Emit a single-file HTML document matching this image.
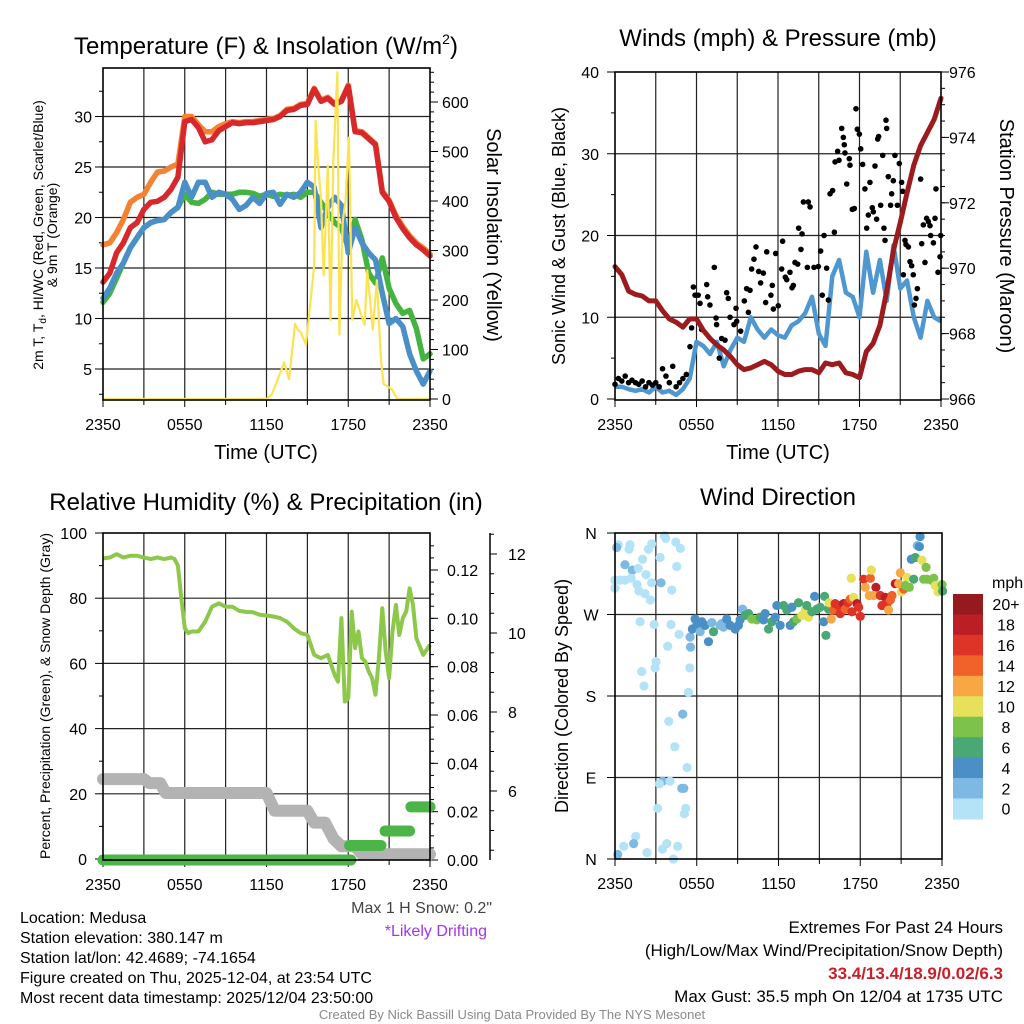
<!DOCTYPE html>
<html><head><meta charset="utf-8"><style>
html,body{margin:0;padding:0;background:#fff}
svg{display:block;font-family:"Liberation Sans",Arial,sans-serif}
</style></head><body>
<svg id="c" width="1024" height="1024" viewBox="0 0 1024 1024" xmlns="http://www.w3.org/2000/svg">
<rect x="0" y="0" width="1024" height="1024" fill="#fff"/>
<text x="266" y="54" font-size="24" text-anchor="middle">Temperature (F) &amp; Insolation (W/m<tspan font-size="14" dy="-10">2</tspan><tspan dy="10">)</tspan></text>
<text x="778" y="46" font-size="24" text-anchor="middle">Winds (mph) &amp; Pressure (mb)</text>
<text x="266" y="510" font-size="24" text-anchor="middle">Relative Humidity (%) &amp; Precipitation (in)</text>
<text x="778" y="505" font-size="24" text-anchor="middle">Wind Direction</text>

<text transform="translate(43,235) rotate(-90)" font-size="14" text-anchor="middle">2m T, T<tspan font-size="10" dy="3">d</tspan><tspan dy="-3">, HI/WC (Red, Green, Scarlet/Blue)</tspan></text>
<text transform="translate(57,235) rotate(-90)" font-size="14" text-anchor="middle">&amp; 9m T (Orange)</text>
<text transform="translate(487,235) rotate(90)" font-size="20" text-anchor="middle">Solar Insolation (Yellow)</text>
<text x="266" y="459" font-size="20" text-anchor="middle">Time (UTC)</text>
<text transform="translate(565,236) rotate(-90)" font-size="18" text-anchor="middle">Sonic Wind &amp; Gust (Blue, Black)</text>
<text transform="translate(1000,236) rotate(90)" font-size="20" text-anchor="middle">Station Pressure (Maroon)</text>
<text x="778" y="459" font-size="20" text-anchor="middle">Time (UTC)</text>
<text transform="translate(50,696) rotate(-90)" font-size="14" text-anchor="middle">Percent, Precipitation (Green), &amp; Snow Depth (Gray)</text>
<text transform="translate(568,696) rotate(-90)" font-size="18" text-anchor="middle">Direction (Colored By Speed)</text>

<text x="492" y="913" font-size="16" fill="#444" text-anchor="end">Max 1 H Snow: 0.2"</text>
<text x="487" y="936" font-size="16" fill="#a335ee" text-anchor="end">*Likely Drifting</text>
<g font-size="16">
<text x="20" y="923">Location: Medusa</text>
<text x="20" y="943">Station elevation: 380.147 m</text>
<text x="20" y="963">Station lat/lon: 42.4689; -74.1654</text>
<text x="20" y="983">Figure created on Thu, 2025-12-04, at 23:54 UTC</text>
<text x="20" y="1003">Most recent data timestamp: 2025/12/04 23:50:00</text>
</g>
<g font-size="17" text-anchor="end">
<text x="1003" y="933">Extremes For Past 24 Hours</text>
<text x="1003" y="956">(High/Low/Max Wind/Precipitation/Snow Depth)</text>
<text x="1003" y="979" font-weight="bold" fill="#c8202a">33.4/13.4/18.9/0.02/6.3</text>
<text x="1003" y="1002">Max Gust: 35.5 mph On 12/04 at 1735 UTC</text>
</g>
<text x="512" y="1019" font-size="13" fill="#8a8a8a" text-anchor="middle">Created By Nick Bassill Using Data Provided By The NYS Mesonet</text>
</svg>
<script>
// ---------- Panel 1 data (hourly offsets from 2350 UTC) ----------
const tHours = [0,0.5,1,1.5,2,2.5,3,3.5,4,4.5,5,5.5,6,6.5,7,7.5,8,8.5,9,9.5,10,10.5,11,11.5,12,12.5,13,13.5,14,14.5,15,15.5,16,16.5,17,17.5,18,18.5,19,19.5,20,20.5,21,21.5,22,22.5,23,23.5,24];
const tempRed = [13.6,14.5,16.5,17.5,19,19.5,20.8,21.5,21.6,22,22.8,24,29.5,29.7,28.9,27.5,27.7,28.6,29,29.4,29.3,29.4,29.4,29.5,29.6,29.7,30,30.6,30.7,31.1,31.2,32.7,31.5,31.8,31.2,31.5,33,28.5,28.4,27.8,27.2,22.5,21.6,20,18.9,18,17.3,16.8,16.2];
const temp9m = [17.3,17.5,18.5,19.8,21.5,22,22.3,23.5,24.5,24.6,25,25.3,30,30,29.2,28.5,28.5,29,29.3,29.5,29.4,29.5,29.5,29.6,29.7,29.8,30.1,30.7,30.8,31.2,31.3,32.8,31.6,31.9,31.3,31.6,33.1,28.6,28.5,27.9,27.3,22.6,21.7,20.2,19.1,18.2,17.5,17,16.4];
const dewGreen = [11.6,12.5,14,15.5,17,18,19,19.5,19.7,19.8,20.5,21,22.3,21.5,21.4,21.8,22.5,22.3,22.3,22.3,22.5,22.5,22.4,22.1,22.3,22.1,22.3,22.2,22.3,22,22.5,22.5,21.5,20.5,19.5,19,17,19.8,17.8,14.5,13.5,16,13,11.5,10.5,10.8,9,6,6.5];
const hiwcBlue = [12,13,14.5,15.5,17,18,19,19.5,19.7,19.8,20.5,21,23.5,22,23.5,23.5,22,22.5,22.3,21.8,20.8,21.2,22,21.4,22.4,22.5,21.3,22.3,22,22.5,23.5,23,19,21,22,21.2,16.5,19,17.5,16.5,15.8,12.5,9.5,10,9.2,6.5,4.8,3.5,4.8];
const solarHours = [0,12,12.4,13.3,13.65,14.1,14.3,14.5,14.9,15.5,15.6,15.8,16,16.2,16.5,16.7,16.9,17.2,17.35,17.6,17.8,18.05,18.3,18.6,19.2,19.4,19.8,20.1,20.4,20.6,21.2,21.6,24];
const solarVals = [0,0,10,74,40,152,140,135,110,270,562,470,404,250,471,160,480,660,130,360,400,528,160,200,150,260,140,240,80,30,20,0,0];
const p1TempTicks = [5,10,15,20,25,30];
const p1SolarTicks = [0,100,200,300,400,500,600];
const timeTickLabels = ["2350","0550","1150","1750","2350"];

// ---------- Panel 2 data ----------
const pressure = [970.05,969.8,969.3,969.2,969.15,969.0,969.0,968.7,968.45,968.35,968.2,968.45,968.45,968.1,967.85,967.65,967.5,967.3,967.05,966.9,966.95,967.05,967.15,967.05,966.85,966.75,966.75,966.85,966.9,966.9,966.8,967.1,967.05,967.1,966.8,966.75,966.65,967.45,967.7,968.25,969.3,970.55,971.4,972.3,973.15,973.75,974.15,974.55,975.2];
const windSpeed = [1.5,1.5,1.2,1.0,1.2,0.8,1.5,0.8,1.0,0.5,1.2,2.5,7,6.5,5.5,7,4,6,7.5,7,10,8.5,7.5,8.5,7.8,7.5,9,9.5,10.5,12.5,8,6.5,15,17,13,12.5,10,18,13,17,12,18.8,13.5,14.5,10,7.5,12,10,9.5];
const gustHours = [0,0.25,0.5,0.75,1,1.25,1.5,1.75,2,2.25,2.5,2.75,3,3.25,3.5,3.75,4,4.25,4.5,4.75,5,5.25,5.52,5.77,5.89,6.13,6.26,5.64,6.38,6.75,6.82,6.99,7.31,7.44,7.48,7.68,7.85,8.10,8.22,8.34,8.47,8.76,8.96,8.91,9.25,9.52,9.69,9.82,9.94,10.06,10.23,10.38,10.58,10.72,10.92,11.09,11.17,11.48,11.58,11.66,11.83,12.02,12.27,12.34,12.54,12.64,12.88,13.03,13.13,13.25,13.45,13.52,13.69,13.77,13.87,14.23,14.36,14.16,14.65,14.97,15.14,15.26,15.39,15.58,15.71,15.83,16.02,16.15,16.20,16.39,16.49,16.69,16.81,16.88,16.93,17.06,17.25,17.30,17.47,17.62,17.74,17.84,17.99,18.09,18.23,18.40,18.53,18.65,18.77,18.94,19.02,19.14,19.26,19.34,19.41,19.56,19.71,19.80,19.88,19.95,20.00,20.12,20.29,20.37,20.49,20.61,20.79,20.93,21.10,21.18,21.23,21.35,21.42,21.60,21.72,21.84,21.96,22.04,22.16,22.26,22.50,22.58,22.70,22.82,22.94,23.07,23.19,23.24,23.44,23.56,23.63,23.78,23.93,23.98];
const gustMph = [1.8,2.5,2.2,2.8,2,2.3,2.0,1.8,2.2,1.5,2.0,1.7,2.0,1.5,3.7,2.8,2.0,4.0,1.5,2.0,2.5,3.0,6.4,13.7,12.7,12.7,11.7,8.7,8.5,14.0,12.5,11.5,16.1,9.9,9.1,5.0,7.4,7.2,13.0,12.3,10.0,9.1,9.5,11.1,8.3,12.0,13.5,10.6,13.3,15.9,17.1,18.6,15.6,14.2,15.4,11.8,18.0,12.7,13.9,11.0,17.8,11.4,15.9,19.3,14.9,14.6,15.5,13.6,13.9,16.7,16.5,20.9,18.3,20.2,24.1,24.1,23.5,16.1,16.1,16.2,18.1,12.7,20.0,16.0,12.1,25.1,25.5,20.4,29.0,30.3,29.2,33.1,32.0,31.1,30.1,26.3,29.4,28.6,23.2,23.3,35.5,33.0,32.4,30.6,28.7,25.7,20.9,22.5,26.5,23.4,22.9,28.5,22.0,31.8,32.1,23.7,29.8,20.9,19.4,34.1,33.1,27.2,23.7,25.1,26.7,29.8,23.7,28.8,26.5,25.4,15.2,19.4,18.9,18.6,16.8,16.3,15.2,11.5,12.3,13.5,26.9,19.0,21.3,16.7,22.1,21.7,21.2,20.0,19.1,22.1,25.7,15.5,17.4,20.0];
const p2WindTicks = [0,10,20,30,40];
const p2PressTicks = [966,968,970,972,974,976];

// ---------- Panel 3 data ----------
const rhHours = [0,0.5,1,1.5,2,2.5,3,3.5,4,4.5,5,5.25,5.5,5.75,6,6.25,6.5,7,7.5,8,8.5,9,9.5,10,10.5,11,11.5,12,12.5,13,13.5,14,14.5,15,15.5,16,16.5,17,17.25,17.5,17.75,18,18.25,18.5,18.75,19,19.25,19.5,19.75,20,20.25,20.5,20.75,21,21.25,21.5,21.75,22,22.25,22.5,22.75,23,23.5,24];
const rhVals = [92.2,92.5,93.5,92.5,93,93,92.5,92,92.5,92,92.5,92,90,80,70.8,69.3,69.8,69.8,72.8,77.4,78.4,77.4,77.4,76.1,75.8,75.7,74.9,74.7,74.4,73.9,72.8,70.8,69.3,68.7,62.6,61.6,62.6,56.5,54.4,73.9,48.3,49.3,75.9,64.7,69.8,61.6,60.6,57.5,55.5,50.4,61.6,76.9,63.6,55.5,69.8,77.9,68.7,73.9,75.9,83,77.9,67.7,62.6,65.7];
const snowHours = [0,3,3.4,4.2,4.6,12,12.6,15,15.5,16.3,16.9,17.5,18.5,19,24];
const snowVals = [6.3,6.3,6.2,6.2,5.95,5.95,5.5,5.5,5.2,5.2,4.8,4.6,4.6,4.4,4.4];
const precipStart = [0,18.1,20.7,22.6];
const precipEnd = [18.2,20.4,22.5,24];
const precipVals = [0,0.006,0.012,0.022];
const p3RhTicks = [0,20,40,60,80,100];
const p3PrecipTicks = [0,0.02,0.04,0.06,0.08,0.10,0.12];
const p3SnowTicks = [6,8,10,12];

// ---------- Panel 4 data ----------
const dirHours = [0.24,1.03,1.10,2.45,2.69,3.62,3.72,4.46,4.80,0.12,0.73,1.27,2.03,1.71,3.31,4.53,0,0.37,0.73,1.18,2.28,2.69,3.38,1.62,1.76,2.20,2.60,4.16,0,1.84,2.87,4.11,4.70,3.87,5.54,3.01,2.94,1.96,2.13,5.49,5.39,4.97,3.94,4.38,5.29,3.50,3.26,4.04,4.90,5.05,3.13,5.19,5.09,1.52,1.37,0.64,0.2,2.35,3.80,3.48,4.60,4.29,5.51,
5.68,5.88,6.0,6.25,6.37,6.61,6.86,7.10,7.23,7.71,7.84,7.96,8.2,8.45,8.82,9.06,9.18,9.36,9.55,9.8,10.04,10.41,10.65,10.9,11.02,11.27,11.51,11.76,11.88,12.12,12.37,12.61,12.86,12.98,13.1,13.35,13.47,13.72,13.96,14.08,14.2,14.45,14.65,14.82,15.06,15.31,15.38,15.48,15.67,15.72,15.87,16.04,16.16,16.41,16.53,16.78,16.9,17.09,17.27,17.39,17.51,17.76,17.88,18.0,17.34,18.25,18.74,18.81,18.37,18.66,19.15,18.98,19.47,19.59,19.84,19.96,20.08,20.21,20.33,20.57,20.94,21.01,21.19,21.43,21.6,21.75,21.92,22.04,22.19,22.39,22.34,22.53,22.83,22.65,22.9,23.22,23.39,23.51,23.71,24.0,24.05,20.82,21.31];
const dirDeg = [347,342,347,342,348,357,354,350,343,344,325,319,331,321,333,323,308,308,308,310,314,305,305,303,296,293,286,297,299,262,259,259,248,235,234,218,211,207,191,211,184,160,152,124,101,86,83,86,78,78,56,56,50,25,17,14,5,7,17,11,14,0,245,
254,265,258,251,262,258,240,261,251,258,260,256,265,258,254,258,264,276,269,271,265,264,267,264,271,254,262,267,280,258,280,275,258,278,262,265,283,269,275,280,267,273,290,276,278,262,290,247,276,283,265,275,282,280,271,282,276,283,287,273,289,282,278,268,310,309,310,319,300,291,300,291,291,280,289,282,275,286,291,304,316,295,298,311,300,331,309,333,346,356,345,330,322,309,309,308,310,302,295,303,296,304,302];
const dirSpeed = [1,1,1,1,1,1,1,1,1,3.5,3,3,1,1,1,1,1,1,1,1,1,1,3,1,1,1,1,1,1,1,1,1,1,1,2.5,1,1,1,1,1,1,3,1,1,1,3,1,1,3,2.5,1,1,1,1,3,1,3,1,1,1,1,1,3,
5,5,5,3,5,5,5,3,7,3,3,3,5,5,5,5,5,3,7,7,9,9,7,5,5,7,7,5,5,5,7,7,5,5,7,9,7,11,11,7,11,7,5,7,7,5,7,7,7,11,13,15,17,17,17,19,15,17,15,17,11,19,17,17,11,17,15,11,13,13,19,13,17,17,19,17,13,15,15,19,13,11,15,11,9,5,7,7,3,5,5,11,9,9,9,9,9,11,11,9,7,13,9];
const speedBinLabels = ["0","2","4","6","8","10","12","14","16","18","20+"];
const speedBinColors = ["#b4e2f7","#7db9e3","#4a8fc6","#4aa874","#7cc24b","#e6e05a","#f7a845","#f0622a","#de3327","#bb1e25","#941a1d"];
const dirTickLabels = ["N","E","S","W","N"];
const dirTickDeg = [0,90,180,270,360];

// ---------- helpers ----------
const NS = "http://www.w3.org/2000/svg";
const svg = document.getElementById('c');
function mk(tag, attrs, parent) {
  const e = document.createElementNS(NS, tag);
  for (const k in attrs) e.setAttribute(k, attrs[k]);
  (parent || svg).appendChild(e);
  return e;
}
function grp(name) {
  const g = mk('g', {});
  
  
  return g;
}
function linear(d0, d1, r0, r1) { return v => r0 + (v - d0) / (d1 - d0) * (r1 - r0); }
function pathFrom(xs, ys, fx, fy) {
  let d = '';
  for (let i = 0; i < xs.length; i++) d += (i ? 'L' : 'M') + fx(xs[i]).toFixed(1) + ',' + fy(ys[i]).toFixed(1);
  return d;
}
function txt(parent, x, y, s, size, anchor, fill) {
  const t = mk('text', {x: x, y: y, 'font-size': size, 'text-anchor': anchor || 'middle', fill: fill || '#000'}, parent);
  t.textContent = s;
  return t;
}
function frame(g, x0, x1, y0, y1, hGrid, fy) {
  const fx = linear(0, 24, x0, x1);
  for (let h = 3; h < 24; h += 3) mk('line', {x1: fx(h), x2: fx(h), y1: y0, y2: y1, stroke: '#222', 'stroke-width': 1.2}, g);
  hGrid.forEach(v => mk('line', {x1: x0, x2: x1, y1: fy(v), y2: fy(v), stroke: '#222', 'stroke-width': 1.2}, g));
  for (let h = 0; h <= 24; h += 3) mk('line', {x1: fx(h), x2: fx(h), y1: y1, y2: y1 + (h % 6 === 0 ? 7 : 5), stroke: '#000', 'stroke-width': 1}, g);
  timeTickLabels.forEach((s, i) => txt(g, fx(i * 6), y1 + 30, s, 16));
}
function box(g, x0, x1, y0, y1) {
  mk('rect', {x: x0, y: y0, width: x1 - x0, height: y1 - y0, fill: 'none', stroke: '#000', 'stroke-width': 1.6}, g);
}

// ---------- Panel 1 ----------
(function () {
  const x0 = 103, x1 = 430, y0 = 68, y1 = 400;
  const fx = linear(0, 24, x0, x1);
  const fy = linear(5, 30, 369, 116.5);
  const fs = linear(0, 600, 399, 102);
  const g = grp('temperature-panel');
  frame(g, x0, x1, y0, y1, p1TempTicks, fy);
  p1TempTicks.forEach(v => { mk('line', {x1: x0 - 8, x2: x0, y1: fy(v), y2: fy(v), stroke: '#000'}, g); txt(g, x0 - 11, fy(v) + 6, String(v), 16, 'end'); });
  for (let v = 2.5; v < 34; v += 5) mk('line', {x1: x0 - 4, x2: x0, y1: fy(v), y2: fy(v), stroke: '#000'}, g);
  p1SolarTicks.forEach(v => { mk('line', {x1: x1, x2: x1 + 8, y1: fs(v), y2: fs(v), stroke: '#000'}, g); txt(g, x1 + 12, fs(v) + 6, String(v), 16, 'start'); });
  for (let v = 20; v < 670; v += 20) mk('line', {x1: x1, x2: x1 + 4, y1: fs(v), y2: fs(v), stroke: '#000'}, g);
  const series = [['line-9m-temp', temp9m, '#f58232'], ['line-dewpoint', dewGreen, '#45b340'], ['line-hiwc', hiwcBlue, '#4b8fc8'], ['line-2m-temp', tempRed, '#d7282b']];
  series.forEach(s => {
    const p = mk('path', {d: pathFrom(tHours, s[1], fx, fy), fill: 'none', stroke: s[2], 'stroke-width': 5.5, 'stroke-linejoin': 'round', 'stroke-linecap': 'round'}, g);
    
    
  });
  const sp = mk('path', {d: pathFrom(solarHours, solarVals, fx, fs), fill: 'none', stroke: '#fbe351', 'stroke-width': 2.2, 'stroke-linejoin': 'round'}, g);
  
  
  box(g, x0, x1, y0, y1);
})();

// ---------- Panel 2 ----------
(function () {
  const x0 = 615, x1 = 941, y0 = 72, y1 = 400;
  const fx = linear(0, 24, x0, x1);
  const fw = linear(0, 40, 399, 72);
  const fp = linear(966, 976, 399, 72);
  const g = grp('winds-panel');
  frame(g, x0, x1, y0, y1, [10, 20, 30], fw);
  p2WindTicks.forEach(v => { mk('line', {x1: x0 - 8, x2: x0, y1: fw(v), y2: fw(v), stroke: '#000'}, g); txt(g, x0 - 16, fw(v) + 6, String(v), 16, 'end'); });
  for (let v = 5; v < 40; v += 10) mk('line', {x1: x0 - 4, x2: x0, y1: fw(v), y2: fw(v), stroke: '#000'}, g);
  p2PressTicks.forEach(v => { mk('line', {x1: x1, x2: x1 + 8, y1: fp(v), y2: fp(v), stroke: '#000'}, g); txt(g, x1 + 8, fp(v) + 6, String(v), 16, 'start'); });
  for (let v = 966.5; v < 976; v += 0.5) mk('line', {x1: x1, x2: x1 + 4, y1: fp(v), y2: fp(v), stroke: '#000'}, g);
  const wp = mk('path', {d: pathFrom(tHours, windSpeed, fx, fw), fill: 'none', stroke: '#4f97d1', 'stroke-width': 4.5, 'stroke-linejoin': 'round'}, g);
  
  
  const gg = grp('gust-points'); g.appendChild(gg);
  gustHours.forEach((h, i) => {
    const c = mk('circle', {cx: fx(h), cy: fw(gustMph[i]), r: 2.8, fill: '#000'}, gg);
    
    
  });
  const pp = mk('path', {d: pathFrom(tHours, pressure, fx, fp), fill: 'none', stroke: '#9b1b1f', 'stroke-width': 5, 'stroke-linejoin': 'round', 'stroke-linecap': 'round'}, g);
  
  
  box(g, x0, x1, y0, y1);
})();

// ---------- Panel 3 ----------
(function () {
  const x0 = 103, x1 = 430, y0 = 533, y1 = 860;
  const fx = linear(0, 24, x0, x1);
  const fr = linear(0, 100, 859, 533);
  const fpr = linear(0, 0.12, 860, 570);
  const fsn = linear(6, 12, 791, 554);
  const g = grp('humidity-panel');
  frame(g, x0, x1, y0, y1, [20, 40, 60, 80], fr);
  p3RhTicks.forEach(v => { mk('line', {x1: x0 - 8, x2: x0, y1: fr(v), y2: fr(v), stroke: '#000'}, g); txt(g, x0 - 16, fr(v) + 6, String(v), 16, 'end'); });
  for (let v = 10; v < 100; v += 20) mk('line', {x1: x0 - 4, x2: x0, y1: fr(v), y2: fr(v), stroke: '#000'}, g);
  p3PrecipTicks.forEach(v => { mk('line', {x1: x1, x2: x1 + 8, y1: fpr(v), y2: fpr(v), stroke: '#000'}, g); txt(g, x1 + 17, fpr(v) + 6, v.toFixed(2), 16, 'start'); });
  for (let v = 0.005; v < 0.135; v += 0.005) mk('line', {x1: x1, x2: x1 + 4, y1: fpr(v), y2: fpr(v), stroke: '#000'}, g);
  const sx = 490;
  mk('line', {x1: sx, x2: sx, y1: y0, y2: y1, stroke: '#000', 'stroke-width': 1.5}, g);
  p3SnowTicks.forEach(v => { mk('line', {x1: sx, x2: sx + 7, y1: fsn(v), y2: fsn(v), stroke: '#000'}, g); txt(g, sx + 18, fsn(v) + 6, String(v), 16, 'start'); });
  for (let v = 4.5; v < 12.8; v += 0.5) mk('line', {x1: sx, x2: sx + 4, y1: fsn(v), y2: fsn(v), stroke: '#000'}, g);
  const rp = mk('path', {d: pathFrom(rhHours, rhVals, fx, fr), fill: 'none', stroke: '#8dc84b', 'stroke-width': 4, 'stroke-linejoin': 'round'}, g);
  
  
  const snp = mk('path', {d: pathFrom(snowHours, snowVals, fx, fsn), fill: 'none', stroke: '#b3b3b3', 'stroke-width': 12, 'stroke-linejoin': 'round', 'stroke-linecap': 'round'}, g);
  
  
  precipVals.forEach((v, i) => {
    const l = mk('line', {x1: fx(precipStart[i]), x2: fx(precipEnd[i]), y1: fpr(v), y2: fpr(v), stroke: '#4bb548', 'stroke-width': 11, 'stroke-linecap': 'round'}, g);
    
    
  });
  box(g, x0, x1, y0, y1);
})();

// ---------- Panel 4 ----------
(function () {
  const x0 = 615, x1 = 942, y0 = 533, y1 = 859;
  const fx = linear(0, 24, x0, x1);
  const fd = linear(0, 360, 859, 533);
  const g = grp('wind-direction-panel');
  frame(g, x0, x1, y0, y1, [90, 180, 270], fd);
  dirTickDeg.forEach((v, i) => { mk('line', {x1: x0 - 8, x2: x0, y1: fd(v), y2: fd(v), stroke: '#000'}, g); txt(g, x0 - 24, fd(v) + 6, dirTickLabels[i], 16, 'middle'); });
  const dg = grp('direction-points'); g.appendChild(dg);
  dirHours.forEach((h, i) => {
    const b = Math.min(10, Math.floor(dirSpeed[i] / 2));
    const c = mk('circle', {cx: fx(h), cy: fd(dirDeg[i]), r: 4.6, fill: speedBinColors[b]}, dg);
    
    
  });
  box(g, x0, x1, y0, y1);
  const cb = grp('speed-colorbar');
  const cx = 953, top = 594, bh = 20.45;
  txt(cb, 992, 588, 'mph', 16, 'start');
  for (let i = 0; i < 11; i++) {
    const idx = 10 - i;
    const r = mk('rect', {x: cx, y: top + i * bh, width: 30, height: bh + 0.5, fill: speedBinColors[idx]}, cb);
    
    
    txt(cb, 1006, top + i * bh + bh / 2 + 6, speedBinLabels[idx], 16, 'middle');
  }
})();
</script>
</body></html>
